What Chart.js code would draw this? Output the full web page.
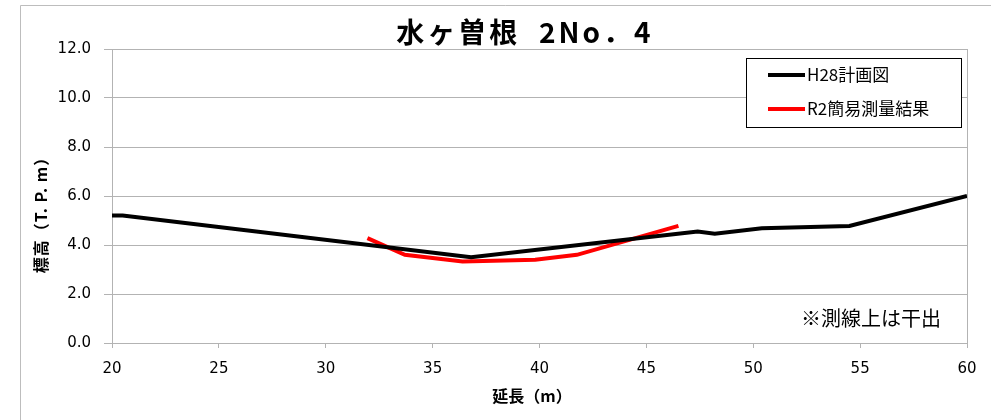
<!DOCTYPE html>
<html>
  <head>
    <meta charset="utf-8">
    <title>水ヶ曽根 2No.4</title>
    <script src="https://cdn.jsdelivr.net/npm/chart.js@4.4.1/dist/chart.umd.min.js"></script>
    <style>
      html, body { margin: 0; padding: 0; background: #fff; }
      #wrap { width: 991px; height: 420px; }
    </style>
  </head>
  <body>
    <div id="wrap"><canvas id="myCanvas" width="991" height="420"></canvas></div>
    <script>
// 延長 / 標高
var planX = [20, 20.5, 36.8, 47.4, 48.2, 50.4, 54.5, 60];
var planY = [5.2, 5.2, 3.5, 4.55, 4.46, 4.68, 4.78, 6.0];
var surveyX = [31.95, 33.7, 36.4, 39.8, 41.75, 46.5];
var surveyY = [4.28, 3.6, 3.33, 3.4, 3.6, 4.78];
var xTicks = [20, 25, 30, 35, 40, 45, 50, 55, 60];
var yTicks = [0, 2, 4, 6, 8, 10, 12];
var seriesNames = ['H28計画図', 'R2簡易測量結果'];
var seriesColors = ['#000000', '#ff0000'];

var FONT = '"Noto Sans CJK JP", "Noto Sans", sans-serif';
var NUMFONT = '"DejaVu Sans", sans-serif';
var GRID = '#b3b3b3';

function toPoints(xs, ys) {
    return xs.map(function (x, i) { return {x: x, y: ys[i]}; });
}

// frame, titles, legend box and note
var decorations = {
    id: 'decorations',
    beforeDraw: function (chart) {
        var ctx = chart.ctx;
        ctx.save();
        ctx.fillStyle = '#fff';
        ctx.fillRect(0, 0, chart.width, chart.height);
        ctx.strokeStyle = '#bdbdbd';
        ctx.lineWidth = 1;
        ctx.beginPath();
        ctx.moveTo(20.5, chart.height);
        ctx.lineTo(20.5, 5.5);
        ctx.lineTo(chart.width, 5.5);
        ctx.stroke();
        ctx.restore();
    },
    afterDraw: function (chart) {
        var ctx = chart.ctx;
        var a = chart.chartArea;
        ctx.save();
        ctx.fillStyle = '#000';
        ctx.textBaseline = 'middle';

        // title
        ctx.font = 'bold 28px ' + FONT;
        ctx.letterSpacing = '3px';
        ctx.textAlign = 'center';
        ctx.fillText('水ヶ曽根  2No．4', 525, 32);
        ctx.letterSpacing = '0px';

        // axis titles
        ctx.font = 'bold 16px ' + FONT;
        ctx.fillText('延長（m）', 532, 396);
        ctx.save();
        ctx.translate(41, 211);
        ctx.rotate(-Math.PI / 2);
        ctx.letterSpacing = '1px';
        ctx.fillText('標高（T. P. m）', 0, 0);
        ctx.restore();

        // legend
        var lx = a.right - 221, ly = a.top + 9, lw = 215, lh = 69;
        ctx.fillStyle = '#fff';
        ctx.fillRect(lx, ly, lw, lh);
        ctx.strokeStyle = '#000';
        ctx.lineWidth = 1;
        ctx.strokeRect(lx + 0.5, ly + 0.5, lw, lh);
        ctx.font = '17px ' + FONT;
        ctx.textAlign = 'left';
        seriesNames.forEach(function (name, i) {
            var yy = ly + 17 + i * 34;
            ctx.strokeStyle = seriesColors[i];
            ctx.lineWidth = 4;
            ctx.beginPath();
            ctx.moveTo(lx + 22, yy);
            ctx.lineTo(lx + 59, yy);
            ctx.stroke();
            ctx.fillStyle = '#000';
            ctx.fillText(name, lx + 61, yy);
        });

        // note
        ctx.font = '20px ' + FONT;
        ctx.textAlign = 'right';
        ctx.fillText('※測線上は干出', a.right - 26, a.bottom - 25);
        ctx.restore();
    }
};

var ctx = document.getElementById('myCanvas').getContext('2d');

var myChart = new Chart(ctx, {
    type: 'line',
    data: {
        datasets: [{
            label: seriesNames[0],
            data: toPoints(planX, planY),
            borderColor: seriesColors[0],
            borderWidth: 4,
            pointRadius: 0,
            tension: 0,
            fill: false
        }, {
            label: seriesNames[1],
            data: toPoints(surveyX, surveyY),
            borderColor: seriesColors[1],
            borderWidth: 4,
            pointRadius: 0,
            tension: 0,
            fill: false
        }]
    },
    options: {
        responsive: false,
        animation: false,
        layout: {
            autoPadding: false,
            padding: {left: 20, right: 24, top: 49, bottom: 0}
        },
        plugins: {
            legend: {display: false},
            title: {display: false},
            tooltip: {enabled: false}
        },
        scales: {
            x: {
                type: 'linear',
                min: 20,
                max: 60,
                afterBuildTicks: function (scale) {
                    scale.ticks = xTicks.map(function (v) { return {value: v}; });
                },
                afterFit: function (scale) { scale.height = 77; },
                border: {color: GRID, width: 1},
                grid: {
                    color: function (c) { return c.tick && c.tick.value === 60 ? GRID : 'transparent'; },
                    tickColor: GRID,
                    tickLength: 5
                },
                ticks: {
                    color: '#000',
                    font: {family: NUMFONT, size: 15},
                    padding: 12,
                    maxRotation: 0
                }
            },
            y: {
                type: 'linear',
                min: 0,
                max: 12,
                afterBuildTicks: function (scale) {
                    scale.ticks = yTicks.map(function (v) { return {value: v}; });
                },
                afterFit: function (scale) { scale.width = 92; },
                border: {color: GRID, width: 1},
                grid: {color: GRID, tickColor: GRID, tickLength: 8},
                ticks: {
                    color: '#000',
                    font: {family: NUMFONT, size: 15},
                    padding: 13,
                    callback: function (v) { return Number(v).toFixed(1); }
                }
            }
        }
    },
    plugins: [decorations]
});
    </script>
  </body>
</html>
